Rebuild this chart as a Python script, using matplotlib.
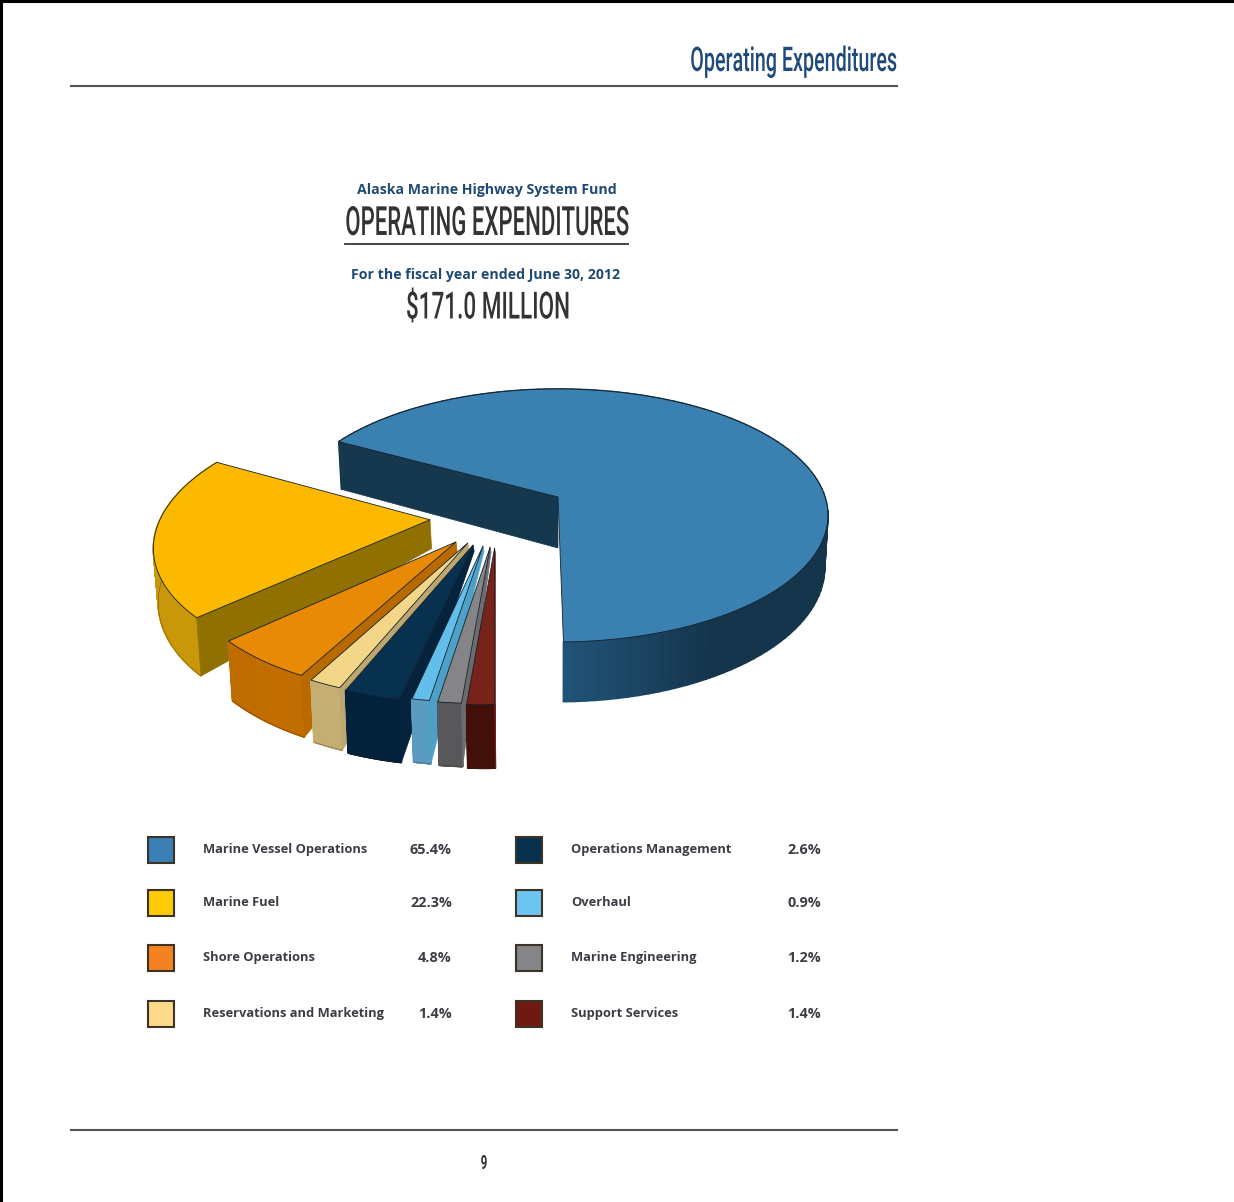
import numpy as np
import matplotlib
matplotlib.use('Agg')
import matplotlib.pyplot as plt
from matplotlib.collections import PolyCollection
from matplotlib.colors import to_rgb
from matplotlib.patches import Polygon, Rectangle
from matplotlib.patheffects import AbstractPathEffect
from matplotlib.transforms import Affine2D

# Data
categories = ['Marine Vessel Operations', 'Marine Fuel', 'Shore Operations',
              'Reservations and Marketing', 'Operations Management', 'Overhaul',
              'Marine Engineering', 'Support Services']
shares = [65.4, 22.3, 4.8, 1.4, 2.6, 0.9, 1.2, 1.4]
share_labels = ['65.4%', '22.3%', '4.8%', '1.4%', '2.6%', '0.9%', '1.2%', '1.4%']

# Colours
top_colors = ['#3a80b0', '#fcb900', '#e88a06', '#f3d688', '#08304f', '#62bfec', '#858587', '#76241a']
radial_colors = ['#15384f', '#8f7000', '#b86a00', '#bda770', '#05233d', '#4da0c8', '#6c6c6e', '#76241a']
wall_start = ['#215277', '#d9a50e', '#bf6c00', '#c5ae72', '#02223c', '#5a9cc0', '#58585a', '#420f0a']
wall_end = ['#15354d', '#c9980a', '#c46e00', '#c5ae72', '#02223c', '#5a9cc0', '#58585a', '#420f0a']
swatch_colors = ['#3a7fb5', '#ffcb05', '#f58220', '#fdd98b', '#08304f', '#6cc5ee', '#858587', '#6e1a12']

# Layout of the exploded pie, in units of the pie radius
explode = [0, 0.50, 0.50, 0.476, 0.474, 0.458, 0.45, 0.448]
explode_dir = [0, 201, 223.5, 227.7, 230.6, 234.6, 237.8, 240]
radius = [1, 0.985, 0.95, 0.97, 0.97, 0.96, 0.96, 0.96]
apex_depth = [1, 0.55, 0.2, 0.12, 0.12, 0.1, 0.1, 0.1]
end_nudge = [4, -4.5, -2, -1, 0, 0, 0, 0]
start_angle = -88

# Camera for the tilted pie
CX, CY, AX, BY, K, DEPTH = 558, 497, 267, 123.8, 0.146, 51

NARROW = ['Roboto', 'DejaVu Sans']
BODY = ['Open Sans', 'DejaVu Sans']


class Squeeze(AbstractPathEffect):
    # the page uses a condensed face that is not installed, so narrow the glyphs
    def __init__(self, sx, x0):
        super().__init__()
        self.sx = sx
        self.x0 = x0

    def draw_path(self, renderer, gc, tpath, affine, rgbFace=None):
        squeeze = Affine2D().translate(-self.x0, 0).scale(self.sx, 1).translate(self.x0, 0)
        renderer.draw_path(gc, tpath, affine + squeeze, rgbFace)


def project(u, v):
    w = 1 + K * v
    return CX + AX * u / w, CY - BY * v / w


def lower(u, v, scale=1.0):
    x, y = project(u, v)
    return CX + (x - CX) * 0.988, y + DEPTH * scale / (1 + K * v)


def mix(c1, c2, t):
    a, b = np.array(to_rgb(c1)), np.array(to_rgb(c2))
    return tuple(a + (b - a) * t)


fig = plt.figure(figsize=(12.34, 12.02), dpi=100)
ax = fig.add_axes([0, 0, 1, 1])
ax.set_xlim(0, 1234)
ax.set_ylim(1202, 0)
ax.axis('off')


def narrow_text(x, y, s, size, sx, color, ha='center', weight='bold'):
    x0 = ax.transData.transform((x, y))[0]
    ax.text(x, y, s, family=NARROW, weight=weight, fontsize=size, color=color, ha=ha, va='center',
            path_effects=[Squeeze(sx, x0)])


# Page frame and rules
ax.plot([1, 1], [0, 1202], color='black', lw=2.2)
ax.plot([0, 1234], [1, 1], color='black', lw=2.2)
ax.plot([71, 897], [86, 86], color='#555555', lw=1.5)
ax.plot([71, 897], [1130, 1130], color='#555555', lw=1.5)
ax.plot([345, 628], [244, 244], color='#444444', lw=1.4)

# Slices
edges = np.cumsum([0] + shares) * 3.6 + start_angle
for i in range(len(shares)):
    t1 = edges[i] + (end_nudge[i - 1] if i > 0 else -1)
    t2 = edges[i + 1] + end_nudge[i]
    d = np.radians(explode_dir[i])
    ou, ov = explode[i] * np.cos(d), explode[i] * np.sin(d)
    deg = np.linspace(t1, t2, 120)
    t = np.radians(deg)
    u = ou + radius[i] * np.cos(t)
    v = ov + radius[i] * np.sin(t)

    # outer wall, made of thin strips for the shading
    strips = []
    cols = []
    for j in range(len(t) - 1):
        a = project(u[j], v[j])
        b = project(u[j + 1], v[j + 1])
        c = lower(u[j + 1], v[j + 1])
        e = lower(u[j], v[j])
        strips.append([a, b, c, e])
        cols.append(mix(wall_start[i], wall_end[i], min(1, (deg[j] - t1) / 28)))
    ax.add_collection(PolyCollection(strips, facecolors=cols, edgecolors=cols, linewidths=1.2, zorder=i * 3 + 1))
    if i > 0:
        low_x, low_y = lower(u, v)
        ax.plot(low_x, low_y, color='#2a1f10', lw=0.4, alpha=0.5, zorder=i * 3 + 1)

    # radial wall at the end of the slice
    wall = [project(ou, ov), project(u[-1], v[-1]), lower(u[-1], v[-1]), lower(ou, ov, apex_depth[i])]
    ax.add_patch(Polygon(wall, closed=True, facecolor=radial_colors[i], edgecolor=radial_colors[i], lw=0.5,
                         zorder=i * 3 + 2))

    # top face
    top_x, top_y = project(np.r_[ou, u], np.r_[ov, v])
    ax.add_patch(Polygon(np.c_[top_x, top_y], closed=True, facecolor=top_colors[i],
                         edgecolor='#14202a', lw=0.6, zorder=i * 3 + 3))

# Legend
rows = [850, 903, 958, 1014]
for i, name in enumerate(categories):
    col = i // 4
    y = rows[i % 4]
    box_x = [148, 516][col]
    ax.add_patch(Rectangle((box_x, y - 13), 26, 26, facecolor=swatch_colors[i], edgecolor='#3a3326', lw=1.5, zorder=30))
    ax.text([203, 571][col], y, name, family=BODY, weight='bold', fontsize=9.3,
            color='#3c3c46', va='center', ha='left')
    ax.text([452, 821][col], y, share_labels[i], family=BODY, weight='bold', fontsize=10.4,
            color='#3c3c46', va='center', ha='right')

# Titles
narrow_text(897, 62, 'Operating Expenditures', 24.5, 0.58, '#1f4a7a', ha='right', weight=500)
ax.text(486.5, 190, 'Alaska Marine Highway System Fund', family=BODY, weight='bold', fontsize=10.15,
        color='#1f4a72', ha='center', va='center')
narrow_text(487, 224, 'OPERATING EXPENDITURES', 29, 0.55, '#333333', weight=500)
ax.text(485.5, 275, 'For the fiscal year ended June 30, 2012', family=BODY, weight='bold', fontsize=10.2,
        color='#1f4a72', ha='center', va='center')
narrow_text(488, 308, '$171.0 MILLION', 27, 0.6, '#333333', weight=500)
narrow_text(484, 1164, '9', 14, 0.6, '#333333')

plt.savefig('out.png', dpi=100)
